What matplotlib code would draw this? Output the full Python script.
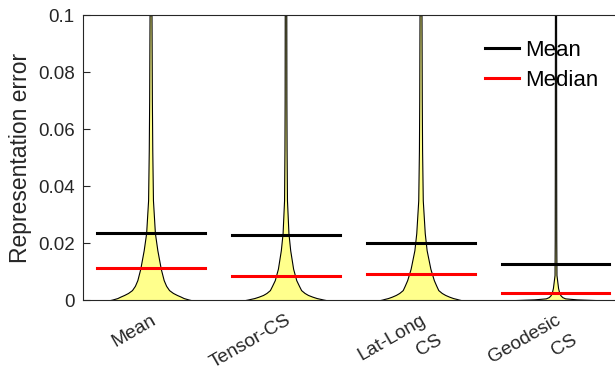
import numpy as np
import matplotlib.pyplot as plt

plt.rcParams['font.family'] = ['Liberation Sans', 'DejaVu Sans']

# metodos comparados
metodos = ['Mean', 'Tensor-CS', 'Lat-Long\nCS', 'Geodesic\nCS']

# media y mediana del error de representacion
medias = [0.0236, 0.0230, 0.0202, 0.0125]
medianas = [0.0113, 0.0085, 0.0092, 0.0026]

# perfil de densidad de cada violin (nivel de error, densidad relativa sin normalizar)
niv = [0, 0.0002, 0.0004, 0.0007, 0.0012, 0.0018, 0.0025, 0.0035, 0.005, 0.007,
       0.011, 0.0175, 0.0235, 0.035, 0.0525, 0.07, 0.1]
den_1 = [41.5, 39, 37, 34, 31, 27, 23, 19, 16, 13.5, 10.5, 7, 4.5, 2.5, 1.8, 1.4, 1.0]
den_2 = [41.5, 38.5, 36, 32, 27.5, 23, 19.5, 16, 13.8, 11, 7.8, 4.8, 3, 1.5, 1.1, 0.9, 0.8]
den_3 = [41, 38.5, 36.5, 33, 29, 25, 21.5, 18, 16, 13.5, 10, 6.2, 4.3, 2.3, 1.6, 1.3, 1.0]

niv_4 = [0, 0.0001, 0.00025, 0.0006, 0.00105, 0.00175, 0.0028, 0.0042, 0.0088, 0.021, 0.049, 0.1]
den_4 = [42, 34, 22, 10, 7, 5, 3.7, 2.7, 1, 0.8, 0.7, 0.6]

niveles = [niv, niv, niv, niv_4]
densidades = [den_1, den_2, den_3, den_4]

yticks = [0, 0.02, 0.04, 0.06, 0.08, 0.1]
ytick_labels = ['0', '0.02', '0.04', '0.06', '0.08', '0.1']

fig = plt.figure(figsize=(6.15, 3.7), dpi=100)
ax = fig.add_axes([0.135, 0.189, 0.878, 0.770])

ancho = 0.3  # ancho maximo del violin
for i in range(len(metodos)):
    pos = i + 1
    y = np.array(niveles[i])
    d = np.array(densidades[i]) / max(densidades[i]) * ancho
    ax.fill_betweenx(y, pos - d, pos + d, facecolor='#ffff8c', edgecolor='black',
                     linewidth=0.8, zorder=2)

for i in range(len(metodos)):
    pos = i + 1
    ax.plot([pos - 0.4, pos + 0.4], [medias[i], medias[i]], color='black', lw=2.2, zorder=3,
            label='Mean' if i == 0 else None)
    ax.plot([pos - 0.4, pos + 0.4], [medianas[i], medianas[i]], color='red', lw=2.2, zorder=3,
            label='Median' if i == 0 else None)

ax.set_xlim(0.5, 4.5)
ax.set_ylim(0, 0.1)
ax.set_yticks(yticks)
ax.set_yticklabels(ytick_labels)

# etiquetas rotadas: primera linea como tick, segunda linea aparte (desplazada como en el original)
ax.set_xticks(range(1, len(metodos) + 1))
ax.set_xticklabels([m.split('\n')[0] for m in metodos], rotation=30, ha='right', va='top',
                   rotation_mode='anchor')
for i, m in enumerate(metodos):
    partes = m.split('\n')
    if len(partes) > 1:
        ax.annotate(partes[1], xy=(i + 1, 0), xycoords='data', xytext=(11.5, -22.5),
                    textcoords='offset points', rotation=30, ha='right', va='top',
                    rotation_mode='anchor', fontsize=13.8, color='#262626')
ax.tick_params(axis='x', length=0, pad=8, labelsize=13.8, colors='#262626')
ax.tick_params(axis='y', direction='in', length=5, labelsize=13.5, colors='#262626', pad=6)
for s in ax.spines.values():
    s.set_color('#262626')
    s.set_linewidth(0.8)
ax.set_ylabel('Representation error', fontsize=16.5, color='#262626', labelpad=4)

fig.legend(loc='upper left', bbox_to_anchor=(485 / 615, 0.893), frameon=False,
           fontsize=16, handlelength=1.55, handletextpad=0.25, labelspacing=0.42,
           borderpad=0, borderaxespad=0)

plt.savefig('out.png', dpi=100)
